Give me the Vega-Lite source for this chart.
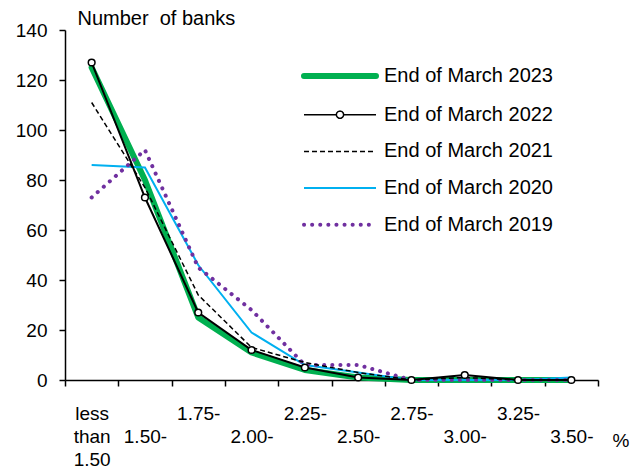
{
  "$schema": "https://vega.github.io/schema/vega-lite/v6.json",
  "width": 533,
  "height": 350,
  "autosize": {"type": "none"},
  "padding": {"left": 65, "top": 30, "right": 41, "bottom": 92},
  "background": "white",
  "config": {
    "view": {"stroke": null},
    "font": "Liberation Sans",
    "axis": {"labelColor": "black", "titleColor": "black", "domainColor": "black", "tickColor": "black", "grid": false}
  },
  "data": {
    "values": [
      {"bucket": "less than 1.50", "year": "End of March 2023", "banks": 125},
      {"bucket": "1.50-", "year": "End of March 2023", "banks": 80},
      {"bucket": "1.75-", "year": "End of March 2023", "banks": 25},
      {"bucket": "2.00-", "year": "End of March 2023", "banks": 11},
      {"bucket": "2.25-", "year": "End of March 2023", "banks": 4},
      {"bucket": "2.50-", "year": "End of March 2023", "banks": 1},
      {"bucket": "2.75-", "year": "End of March 2023", "banks": 0},
      {"bucket": "3.00-", "year": "End of March 2023", "banks": 0},
      {"bucket": "3.25-", "year": "End of March 2023", "banks": 0},
      {"bucket": "3.50-", "year": "End of March 2023", "banks": 0},
      {"bucket": "less than 1.50", "year": "End of March 2022", "banks": 127},
      {"bucket": "1.50-", "year": "End of March 2022", "banks": 73},
      {"bucket": "1.75-", "year": "End of March 2022", "banks": 27},
      {"bucket": "2.00-", "year": "End of March 2022", "banks": 12},
      {"bucket": "2.25-", "year": "End of March 2022", "banks": 5},
      {"bucket": "2.50-", "year": "End of March 2022", "banks": 1},
      {"bucket": "2.75-", "year": "End of March 2022", "banks": 0},
      {"bucket": "3.00-", "year": "End of March 2022", "banks": 2},
      {"bucket": "3.25-", "year": "End of March 2022", "banks": 0},
      {"bucket": "3.50-", "year": "End of March 2022", "banks": 0},
      {"bucket": "less than 1.50", "year": "End of March 2021", "banks": 111},
      {"bucket": "1.50-", "year": "End of March 2021", "banks": 77},
      {"bucket": "1.75-", "year": "End of March 2021", "banks": 34},
      {"bucket": "2.00-", "year": "End of March 2021", "banks": 13},
      {"bucket": "2.25-", "year": "End of March 2021", "banks": 7},
      {"bucket": "2.50-", "year": "End of March 2021", "banks": 3},
      {"bucket": "2.75-", "year": "End of March 2021", "banks": 0},
      {"bucket": "3.00-", "year": "End of March 2021", "banks": 1},
      {"bucket": "3.25-", "year": "End of March 2021", "banks": 0},
      {"bucket": "3.50-", "year": "End of March 2021", "banks": 0},
      {"bucket": "less than 1.50", "year": "End of March 2020", "banks": 86},
      {"bucket": "1.50-", "year": "End of March 2020", "banks": 85},
      {"bucket": "1.75-", "year": "End of March 2020", "banks": 46},
      {"bucket": "2.00-", "year": "End of March 2020", "banks": 19},
      {"bucket": "2.25-", "year": "End of March 2020", "banks": 6},
      {"bucket": "2.50-", "year": "End of March 2020", "banks": 3},
      {"bucket": "2.75-", "year": "End of March 2020", "banks": 0},
      {"bucket": "3.00-", "year": "End of March 2020", "banks": 0},
      {"bucket": "3.25-", "year": "End of March 2020", "banks": 0},
      {"bucket": "3.50-", "year": "End of March 2020", "banks": 1},
      {"bucket": "less than 1.50", "year": "End of March 2019", "banks": 73},
      {"bucket": "1.50-", "year": "End of March 2019", "banks": 92},
      {"bucket": "1.75-", "year": "End of March 2019", "banks": 45},
      {"bucket": "2.00-", "year": "End of March 2019", "banks": 28},
      {"bucket": "2.25-", "year": "End of March 2019", "banks": 6},
      {"bucket": "2.50-", "year": "End of March 2019", "banks": 6},
      {"bucket": "2.75-", "year": "End of March 2019", "banks": 0},
      {"bucket": "3.00-", "year": "End of March 2019", "banks": 0},
      {"bucket": "3.25-", "year": "End of March 2019", "banks": 0},
      {"bucket": "3.50-", "year": "End of March 2019", "banks": 0}
    ]
  },
  "encoding": {
    "x": {
      "field": "bucket",
      "type": "ordinal",
      "sort": ["less than 1.50", "1.50-", "1.75-", "2.00-", "2.25-", "2.50-", "2.75-", "3.00-", "3.25-", "3.50-"],
      "scale": {"type": "band", "paddingInner": 0, "paddingOuter": 0},
      "bandPosition": 0.5,
      "axis": {
        "title": "%",
        "titleFontSize": 19,
        "titleFontWeight": "normal",
        "titleAlign": "left",
        "titleBaseline": "alphabetic",
        "titleX": 547,
        "titleY": 66,
        "tickBand": "extent",
        "tickSize": 6,
        "tickWidth": 1.5,
        "domainWidth": 1.5,
        "labelAngle": 0,
        "labelFontSize": 19,
        "labelBaseline": "top",
        "labelLineHeight": 23,
        "labelPadding": 18,
        "labelOverlap": false,
        "labelExpr": "datum.value == 'less than 1.50' ? ['less', 'than', '1.50'] : (indexof(['1.50-', '2.00-', '2.50-', '3.00-', '3.50-'], datum.value) >= 0 ? ['\u00a0', datum.value] : datum.value)"
      }
    },
    "y": {
      "field": "banks",
      "type": "quantitative",
      "scale": {"domain": [0, 140], "nice": false},
      "axis": {
        "values": [0, 20, 40, 60, 80, 100, 120, 140],
        "title": "Number\u00a0 of banks",
        "titleAngle": 0,
        "titleAlign": "left",
        "titleBaseline": "alphabetic",
        "titleX": 12,
        "titleY": -6,
        "titleFontSize": 20,
        "titleFontWeight": "normal",
        "labelFontSize": 19,
        "labelPadding": 12,
        "tickSize": 6,
        "tickWidth": 1.5,
        "domainWidth": 1.5
      }
    },
    "color": {
      "field": "year",
      "type": "nominal",
      "scale": {
        "domain": ["End of March 2023", "End of March 2022", "End of March 2021", "End of March 2020", "End of March 2019"],
        "range": ["#00B050", "#000000", "#000000", "#00B0F0", "#7030A0"]
      },
      "legend": {
        "title": null,
        "orient": "none",
        "legendX": 292,
        "legendY": 36,
        "padding": 0,
        "symbolType": "stroke",
        "symbolSize": 324,
        "labelFontSize": 20,
        "labelColor": "black",
        "labelOffset": 7,
        "rowPadding": 16.7,
        "labelLimit": 300,
        "encode": {
          "symbols": {
            "update": {
              "shape": {"signal": "datum.value == 'End of March 2022' ? 'M-7,0H-3.4M-2.6,0H1M-3.4,0A0.4,0.4,0,1,0,-2.6,0A0.4,0.4,0,1,0,-3.4,0' : 'M-7,0H1'"},
              "strokeWidth": {"signal": "datum.value == 'End of March 2023' ? 6 : datum.value == 'End of March 2019' ? 4 : datum.value == 'End of March 2020' ? 2 : 1.5"},
              "strokeDash": {"signal": "datum.value == 'End of March 2021' ? [5, 3] : datum.value == 'End of March 2019' ? [0.1, 8] : [1, 0]"},
              "strokeCap": {"signal": "datum.value == 'End of March 2019' || datum.value == 'End of March 2023' ? 'round' : 'butt'"},
              "fill": {"signal": "datum.value == 'End of March 2022' ? 'white' : 'transparent'"},
              "opacity": {"value": 1}
            }
          }
        }
      }
    }
  },
  "layer": [
    {
      "transform": [{"filter": "datum.year == 'End of March 2023'"}],
      "mark": {"type": "line", "strokeWidth": 6, "strokeCap": "round", "strokeJoin": "round"}
    },
    {
      "transform": [{"filter": "datum.year == 'End of March 2020'"}],
      "mark": {"type": "line", "strokeWidth": 2}
    },
    {
      "transform": [{"filter": "datum.year == 'End of March 2019'"}],
      "mark": {"type": "line", "strokeWidth": 4, "strokeDash": [0.1, 8], "strokeCap": "round"}
    },
    {
      "transform": [{"filter": "datum.year == 'End of March 2021'"}],
      "mark": {"type": "line", "strokeWidth": 1.5, "strokeDash": [5, 3]}
    },
    {
      "transform": [{"filter": "datum.year == 'End of March 2022'"}],
      "mark": {"type": "line", "strokeWidth": 2}
    },
    {
      "transform": [{"filter": "datum.year == 'End of March 2022'"}],
      "mark": {"type": "point", "shape": "circle", "filled": true, "fill": "white", "stroke": "black", "strokeWidth": 1.5, "size": 45, "opacity": 1},
      "encoding": {"color": {"value": "black"}, "fill": {"value": "white"}}
    }
  ]
}
